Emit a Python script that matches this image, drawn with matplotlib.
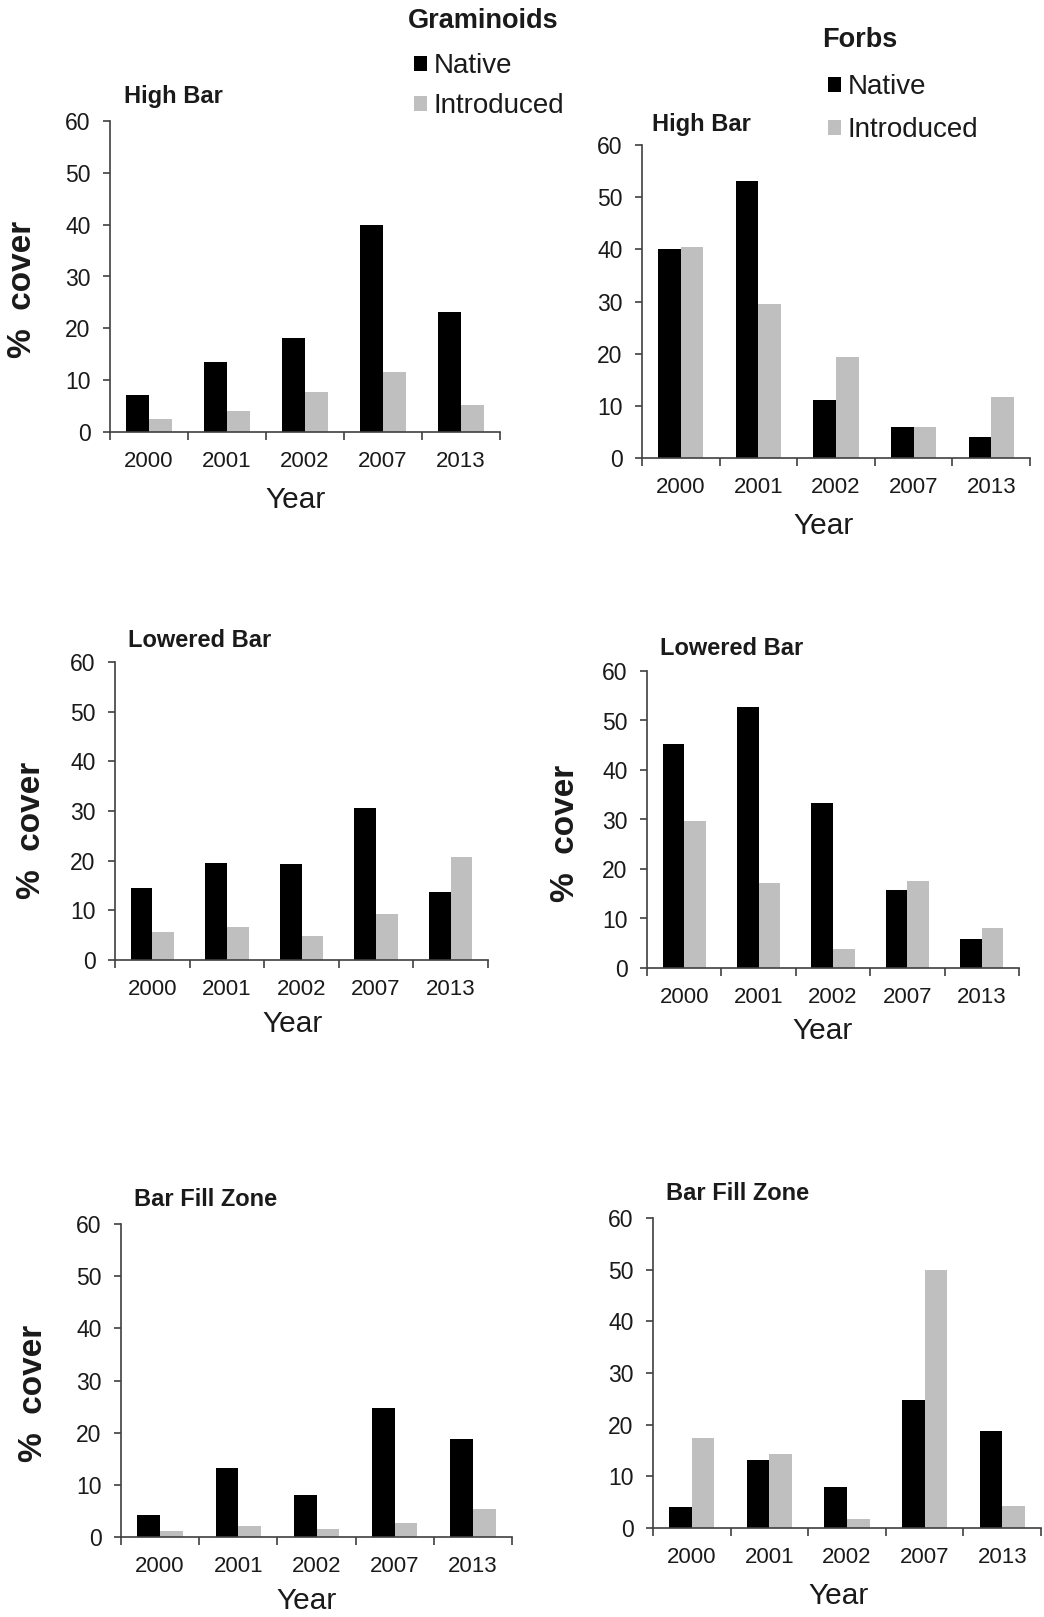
import matplotlib
matplotlib.use("Agg")
import matplotlib.pyplot as plt
from matplotlib.patches import Patch

plt.rcParams['font.family'] = ['Liberation Sans', 'DejaVu Sans']

# data
years = ['2000', '2001', '2002', '2007', '2013']

gram_high_native = [7.2, 13.5, 18.2, 40.0, 23.1]
gram_high_intro = [2.5, 4.1, 7.8, 11.6, 5.3]
forb_high_native = [40.0, 53.1, 11.1, 6.0, 4.1]
forb_high_intro = [40.4, 29.6, 19.3, 6.0, 11.6]

gram_low_native = [14.4, 19.6, 19.4, 30.7, 13.7]
gram_low_intro = [5.7, 6.7, 4.8, 9.3, 20.8]
forb_low_native = [45.3, 52.7, 33.3, 15.8, 5.9]
forb_low_intro = [29.7, 17.2, 3.8, 17.6, 8.0]

gram_fill_native = [4.2, 13.3, 8.1, 24.8, 18.7]
gram_fill_intro = [1.2, 2.1, 1.6, 2.6, 5.4]
forb_fill_native = [4.1, 13.2, 8.0, 24.8, 18.7]
forb_fill_intro = [17.5, 14.4, 1.7, 49.9, 4.3]

W, H = 1044, 1617
NATIVE_C = '#000000'
INTRO_C = '#bfbfbf'
AXIS_C = '#404040'
TEXT_C = '#1a1a1a'

fig = plt.figure(figsize=(W / 100, H / 100), dpi=100)


def px(x, y):
    return x / W, 1 - y / H


def make_panel(box, native, intro, title, title_xy, year_xy, ylab_xy=None):
    x0, x1, ytop, ybot = box
    ax = fig.add_axes([x0 / W, 1 - ybot / H, (x1 - x0) / W, (ybot - ytop) / H])
    pos = list(range(len(years)))
    bw = 0.29
    ax.bar([p - bw / 2 for p in pos], native, width=bw, color=NATIVE_C)
    ax.bar([p + bw / 2 for p in pos], intro, width=bw, color=INTRO_C)
    ax.set_xlim(-0.5, len(years) - 0.5)
    ax.set_ylim(0, 60)
    ax.set_yticks(range(0, 61, 10))
    ax.set_xticks(pos)
    ax.set_xticklabels(years)
    ax.set_xticks([p - 0.5 for p in range(len(years) + 1)], minor=True)
    for s in ['top', 'right']:
        ax.spines[s].set_visible(False)
    for s in ['left', 'bottom']:
        ax.spines[s].set_color(AXIS_C)
        ax.spines[s].set_linewidth(1.2)
    ax.tick_params(axis='x', which='major', length=0, pad=14, labelsize=16, labelcolor=TEXT_C)
    ax.tick_params(axis='x', which='minor', length=6, width=1.2, color=AXIS_C, direction='out')
    ax.tick_params(axis='y', length=5, width=1.2, color=AXIS_C, pad=9, labelsize=16.5, labelcolor=TEXT_C)
    ax.patch.set_alpha(0)

    tx, ty = px(*title_xy)
    fig.text(tx, ty, title, fontsize=17, fontweight='bold', color=TEXT_C, ha='left', va='center')
    yx, yy = px(*year_xy)
    fig.text(yx, yy, 'Year', fontsize=21.5, color=TEXT_C, ha='center', va='center')
    if ylab_xy is not None:
        lx, ly = px(*ylab_xy)
        fig.text(lx, ly, '%  cover', fontsize=24, fontweight='bold', color=TEXT_C,
                 rotation=90, ha='center', va='center')
    return ax


make_panel((110, 500, 121, 432), gram_high_native, gram_high_intro, 'High Bar', (124, 96), (296, 500), (23, 289))
make_panel((642, 1030, 145, 458), forb_high_native, forb_high_intro, 'High Bar', (652, 124), (824, 526))
make_panel((115, 488, 662, 960), gram_low_native, gram_low_intro, 'Lowered Bar', (128, 640), (293, 1024), (32, 830))
make_panel((647, 1019, 671, 968), forb_low_native, forb_low_intro, 'Lowered Bar', (660, 648), (823, 1031), (565, 833))
make_panel((121, 512, 1224, 1537), gram_fill_native, gram_fill_intro, 'Bar Fill Zone', (134, 1200), (307, 1601), (34, 1393))
make_panel((653, 1041, 1218, 1528), forb_fill_native, forb_fill_intro, 'Bar Fill Zone', (666, 1193), (839, 1596))

# group legends: bold heading plus two square swatches
handles = [Patch(facecolor=NATIVE_C, edgecolor='none'), Patch(facecolor=INTRO_C, edgecolor='none')]
labels = ['Native', 'Introduced']
for title, title_xy, anchor, spacing in [('Graminoids', (408, 21), (414, 53), 0.51),
                                          ('Forbs', (822, 40), (828, 74), 0.62)]:
    tx, ty = px(*title_xy)
    fig.text(tx, ty, title, fontsize=19.5, fontweight='bold', color=TEXT_C, ha='left', va='center')
    leg = fig.legend(handles, labels, loc='upper left',
                     bbox_to_anchor=px(*anchor), frameon=False, fontsize=20,
                     handlelength=0.45, handleheight=0.45, handletextpad=0.25,
                     labelspacing=spacing, borderpad=0, borderaxespad=0)
    for t in leg.get_texts():
        t.set_color(TEXT_C)

fig.savefig('out.png', dpi=100)
